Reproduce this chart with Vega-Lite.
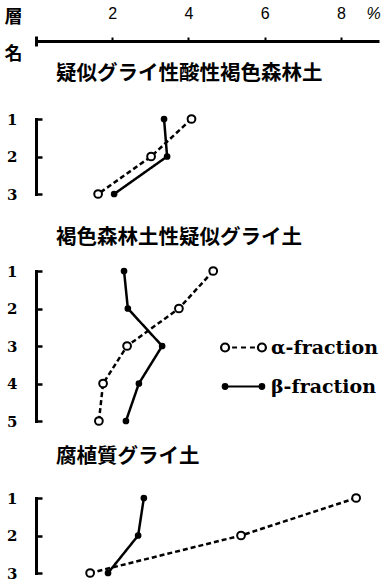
{
  "$schema": "https://vega.github.io/schema/vega-lite/v6.json",
  "background": "white",
  "padding": {"left": 4, "top": 5, "right": 0, "bottom": 0},
  "config": {
    "view": {"stroke": null},
    "axisY": {
      "domainColor": "black", "domainWidth": 3, "domainCap": "square",
      "tickColor": "black", "tickWidth": 2.5, "tickSize": -6,
      "labelFont": "DejaVu Serif", "labelFontWeight": "bold", "labelFontSize": 15,
      "labelColor": "black", "labelPadding": 25, "grid": false
    },
    "title": {
      "font": "Noto Sans CJK JP", "fontSize": 20.5, "fontWeight": "bold",
      "color": "black", "anchor": "start", "frame": "group", "dx": 20
    }
  },
  "datasets": {
    "humus": [
      {"soil": "疑似グライ性酸性褐色森林土", "horizon": 1, "fraction": "α-fraction", "pct": 4.08},
      {"soil": "疑似グライ性酸性褐色森林土", "horizon": 2, "fraction": "α-fraction", "pct": 3.02},
      {"soil": "疑似グライ性酸性褐色森林土", "horizon": 3, "fraction": "α-fraction", "pct": 1.63},
      {"soil": "疑似グライ性酸性褐色森林土", "horizon": 1, "fraction": "β-fraction", "pct": 3.36},
      {"soil": "疑似グライ性酸性褐色森林土", "horizon": 2, "fraction": "β-fraction", "pct": 3.44},
      {"soil": "疑似グライ性酸性褐色森林土", "horizon": 3, "fraction": "β-fraction", "pct": 2.05},
      {"soil": "褐色森林土性疑似グライ土", "horizon": 1, "fraction": "α-fraction", "pct": 4.65},
      {"soil": "褐色森林土性疑似グライ土", "horizon": 2, "fraction": "α-fraction", "pct": 3.75},
      {"soil": "褐色森林土性疑似グライ土", "horizon": 3, "fraction": "α-fraction", "pct": 2.39},
      {"soil": "褐色森林土性疑似グライ土", "horizon": 4, "fraction": "α-fraction", "pct": 1.76},
      {"soil": "褐色森林土性疑似グライ土", "horizon": 5, "fraction": "α-fraction", "pct": 1.65},
      {"soil": "褐色森林土性疑似グライ土", "horizon": 1, "fraction": "β-fraction", "pct": 2.31},
      {"soil": "褐色森林土性疑似グライ土", "horizon": 2, "fraction": "β-fraction", "pct": 2.41},
      {"soil": "褐色森林土性疑似グライ土", "horizon": 3, "fraction": "β-fraction", "pct": 3.31},
      {"soil": "褐色森林土性疑似グライ土", "horizon": 4, "fraction": "β-fraction", "pct": 2.70},
      {"soil": "褐色森林土性疑似グライ土", "horizon": 5, "fraction": "β-fraction", "pct": 2.36},
      {"soil": "腐植質グライ土", "horizon": 1, "fraction": "α-fraction", "pct": 8.40},
      {"soil": "腐植質グライ土", "horizon": 2, "fraction": "α-fraction", "pct": 5.38},
      {"soil": "腐植質グライ土", "horizon": 3, "fraction": "α-fraction", "pct": 1.42},
      {"soil": "腐植質グライ土", "horizon": 1, "fraction": "β-fraction", "pct": 2.83},
      {"soil": "腐植質グライ土", "horizon": 2, "fraction": "β-fraction", "pct": 2.68},
      {"soil": "腐植質グライ土", "horizon": 3, "fraction": "β-fraction", "pct": 1.89}
    ]
  },
  "spacing": 25,
  "resolve": {"legend": {"fill": "independent"}, "scale": {"fill": "independent"}},
  "vconcat": [
    {
      "spacing": 0,
      "resolve": {"legend": {"fill": "independent"}, "scale": {"fill": "independent"}},
      "vconcat": [
        {
          "width": 343,
          "height": 10,
          "data": {"name": "humus"},
          "transform": [{"filter": "datum.pct < 0"}],
          "mark": {"type": "point", "opacity": 0},
          "encoding": {
            "x": {
              "field": "pct", "type": "quantitative",
              "scale": {"domain": [0, 9], "nice": false, "zero": false},
              "axis": {
                "orient": "top", "offset": -5, "values": [2, 4, 6, 8], "grid": false,
                "domainColor": "black", "domainWidth": 3, "domainCap": "butt",
                "tickColor": "black", "tickWidth": 2, "tickSize": 4,
                "labelPadding": 16, "labelFont": "Liberation Sans", "labelFontSize": 16,
                "labelColor": "black",
                "title": "%", "titleAngle": 0, "titleX": 337, "titleY": -28,
                "titleAlign": "center", "titleBaseline": "middle",
                "titleFont": "Liberation Sans", "titleFontSize": 16, "titleFontWeight": "normal",
                "titleFontStyle": "italic", "titleColor": "black"
              }
            },
            "y": {
              "field": "horizon", "type": "quantitative",
              "scale": {"domain": [0, 1], "nice": false, "zero": false},
              "axis": {
                "ticks": false, "labels": false, "grid": false, "domainCap": "butt",
                "title": ["層", "名"], "titleAngle": 0, "titleX": -23, "titleY": -19,
                "titleAlign": "center", "titleBaseline": "middle", "titleLineHeight": 37,
                "titleFont": "Noto Sans CJK JP", "titleFontSize": 18, "titleFontWeight": "bold",
                "titleColor": "black"
              }
            }
          }
        },
        {
          "title": {"text": "疑似グライ性酸性褐色森林土", "offset": 27},
          "width": 343,
          "height": 75,
          "data": {"name": "humus"},
          "transform": [{"filter": "datum.soil === '疑似グライ性酸性褐色森林土'"}],
          "encoding": {
            "x": {"field": "pct", "type": "quantitative", "scale": {"domain": [0, 9], "nice": false, "zero": false}, "axis": null},
            "y": {"field": "horizon", "type": "ordinal", "scale": {"type": "point", "padding": 0}, "axis": {"title": null, "labelAngle": 0}}
          },
          "layer": [
            {
              "mark": {"type": "line", "color": "black", "strokeWidth": 2.5},
              "encoding": {
                "detail": {"field": "fraction", "type": "nominal"},
                "strokeDash": {"condition": {"test": "datum.fraction === 'α-fraction'", "value": [5, 3]}, "value": [1, 0]},
                "order": {"field": "horizon", "type": "quantitative"}
              }
            },
            {
              "mark": {"type": "point", "shape": "circle", "filled": true, "stroke": "black", "strokeWidth": 2, "opacity": 1},
              "encoding": {
                "fill": {"field": "fraction", "type": "nominal", "scale": {"domain": ["α-fraction", "β-fraction"], "range": ["white", "black"]}, "legend": null},
                "size": {"condition": {"test": "datum.fraction === 'α-fraction'", "value": 60}, "value": 22}
              }
            }
          ]
        }
      ]
    },
    {
      "spacing": 17,
      "resolve": {"legend": {"fill": "independent"}, "scale": {"fill": "independent"}},
      "vconcat": [
        {
          "title": {"text": "褐色森林土性疑似グライ土", "offset": 15},
          "width": 343,
          "height": 150,
          "data": {"name": "humus"},
          "transform": [{"filter": "datum.soil === '褐色森林土性疑似グライ土'"}],
          "encoding": {
            "x": {"field": "pct", "type": "quantitative", "scale": {"domain": [0, 9], "nice": false, "zero": false}, "axis": null},
            "y": {"field": "horizon", "type": "ordinal", "scale": {"type": "point", "padding": 0}, "axis": {"title": null, "labelAngle": 0}}
          },
          "layer": [
            {
              "mark": {"type": "line", "color": "black", "strokeWidth": 2.5},
              "encoding": {
                "detail": {"field": "fraction", "type": "nominal"},
                "strokeDash": {"condition": {"test": "datum.fraction === 'α-fraction'", "value": [5, 3]}, "value": [1, 0]},
                "order": {"field": "horizon", "type": "quantitative"}
              }
            },
            {
              "mark": {"type": "point", "shape": "circle", "filled": true, "stroke": "black", "strokeWidth": 2, "opacity": 1},
              "encoding": {
                "fill": {
                  "field": "fraction", "type": "nominal",
                  "scale": {"domain": ["α-fraction", "β-fraction"], "range": ["white", "black"]},
                  "legend": {
                    "orient": "none", "legendX": 187, "legendY": 56, "title": null,
                    "padding": 0, "rowPadding": 8, "symbolSize": 1444,
                    "symbolStrokeColor": "black", "symbolStrokeWidth": 2.2, "symbolOpacity": 1,
                    "labelFont": "DejaVu Serif", "labelFontWeight": "bold", "labelFontSize": 19,
                    "labelColor": "black", "labelOffset": 7,
                    "encode": {
                      "symbols": {
                        "update": {
                          "shape": [
                            {"test": "datum.value === 'α-fraction'", "value": "M-1.18,0C-1.18,-0.116,-1.086,-0.21,-0.97,-0.21C-0.854,-0.21,-0.76,-0.116,-0.76,0C-0.76,0.116,-0.854,0.21,-0.97,0.21C-1.086,0.21,-1.18,0.116,-1.18,0Z M0.76,0C0.76,-0.116,0.854,-0.21,0.97,-0.21C1.086,-0.21,1.18,-0.116,1.18,0C1.18,0.116,1.086,0.21,0.97,0.21C0.854,0.21,0.76,0.116,0.76,0Z M-0.6,0H-0.34 M-0.13,0H0.13 M0.34,0H0.6"},
                            {"value": "M-0.97,0H0.97 M-1.09,0C-1.09,-0.066,-1.036,-0.12,-0.97,-0.12C-0.904,-0.12,-0.85,-0.066,-0.85,0C-0.85,0.066,-0.904,0.12,-0.97,0.12C-1.036,0.12,-1.09,0.066,-1.09,0Z M0.85,0C0.85,-0.066,0.904,-0.12,0.97,-0.12C1.036,-0.12,1.09,-0.066,1.09,0C1.09,0.066,1.036,0.12,0.97,0.12C0.904,0.12,0.85,0.066,0.85,0Z"}
                          ],
                          "size": {"value": 1444},
                          "fillOpacity": {"value": 1},
                          "stroke": {"value": "black"},
                          "strokeOpacity": {"value": 1},
                          "strokeWidth": {"value": 2.2}
                        }
                      }
                    }
                  }
                },
                "size": {"condition": {"test": "datum.fraction === 'α-fraction'", "value": 60}, "value": 22}
              }
            }
          ]
        },
        {
          "title": {"text": "腐植質グライ土", "offset": 23},
          "width": 343,
          "height": 75,
          "data": {"name": "humus"},
          "transform": [{"filter": "datum.soil === '腐植質グライ土'"}],
          "encoding": {
            "x": {"field": "pct", "type": "quantitative", "scale": {"domain": [0, 9], "nice": false, "zero": false}, "axis": null},
            "y": {"field": "horizon", "type": "ordinal", "scale": {"type": "point", "padding": 0}, "axis": {"title": null, "labelAngle": 0}}
          },
          "layer": [
            {
              "mark": {"type": "line", "color": "black", "strokeWidth": 2.5},
              "encoding": {
                "detail": {"field": "fraction", "type": "nominal"},
                "strokeDash": {"condition": {"test": "datum.fraction === 'α-fraction'", "value": [5, 3]}, "value": [1, 0]},
                "order": {"field": "horizon", "type": "quantitative"}
              }
            },
            {
              "mark": {"type": "point", "shape": "circle", "filled": true, "stroke": "black", "strokeWidth": 2, "opacity": 1},
              "encoding": {
                "fill": {"field": "fraction", "type": "nominal", "scale": {"domain": ["α-fraction", "β-fraction"], "range": ["white", "black"]}, "legend": null},
                "size": {"condition": {"test": "datum.fraction === 'α-fraction'", "value": 60}, "value": 22}
              }
            }
          ]
        }
      ]
    }
  ]
}
